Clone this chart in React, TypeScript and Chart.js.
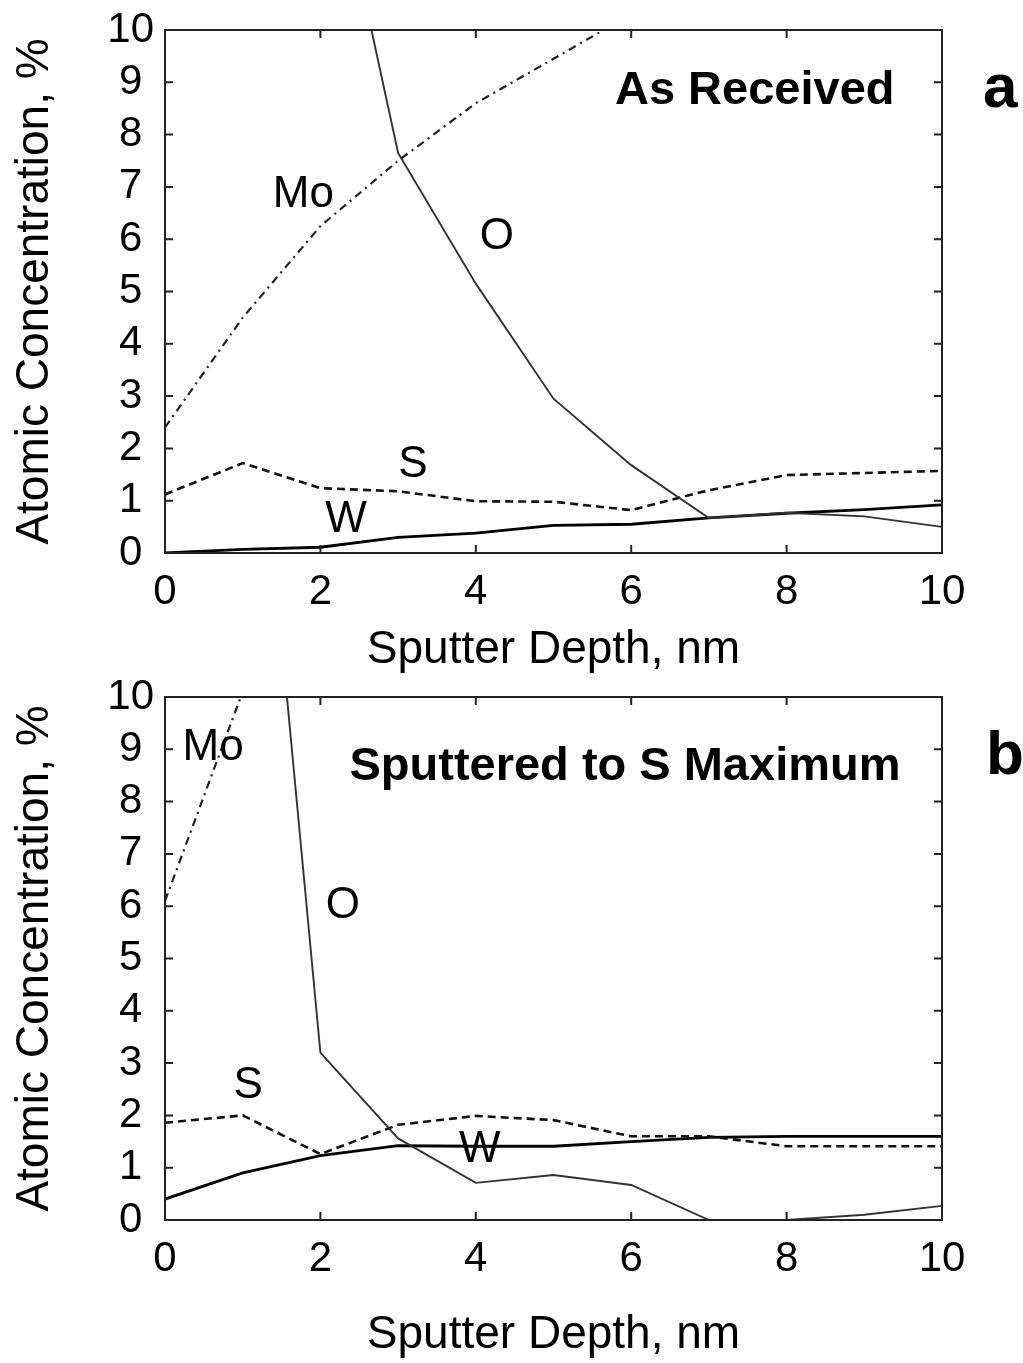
import React, { useEffect, useRef } from "react";
import { Chart, registerables } from "chart.js";

Chart.register(...registerables);

// ---------- data ----------
const depth = [0, 1, 2, 3, 4, 5, 6, 7, 8, 9, 10];
const xTicks = [0, 2, 4, 6, 8, 10];
const yTicks = [0, 1, 2, 3, 4, 5, 6, 7, 8, 9, 10];

// Panel a: As Received
const moA = [2.4, 4.5, 6.25, 7.5, 8.6, 9.45, 10.3, null, null, null, null];
const oA = [null, null, 14.5, 7.65, 5.15, 2.95, 1.68, 0.67, 0.77, 0.7, 0.5];
const sA = [1.12, 1.72, 1.24, 1.18, 0.99, 0.98, 0.82, 1.2, 1.49, 1.53, 1.57];
const wA = [0.0, 0.07, 0.11, 0.3, 0.38, 0.53, 0.55, 0.67, 0.76, 0.83, 0.92];

// Panel b: Sputtered to S Maximum
const moB = [6.1, 10.1, null, null, null, null, null, null, null, null, null];
const oB = [null, 19, 3.2, 1.56, 0.71, 0.86, 0.67, 0.0, 0.0, 0.1, 0.27];
const sB = [1.86, 2.0, 1.26, 1.82, 1.99, 1.91, 1.6, 1.6, 1.41, 1.41, 1.41];
const wB = [0.4, 0.9, 1.23, 1.42, 1.41, 1.41, 1.5, 1.58, 1.6, 1.6, 1.6];

const xTitle = "Sputter Depth, nm";
const yTitle = "Atomic Concentration, %";

const labelsA = [
  { text: "Mo", x: 1.78, y: 6.85, bold: false, size: 44 },
  { text: "O", x: 4.27, y: 6.04, bold: false, size: 44 },
  { text: "S", x: 3.19, y: 1.68, bold: false, size: 44 },
  { text: "W", x: 2.33, y: 0.63, bold: false, size: 44 },
  { text: "As Received", x: 7.59, y: 8.83, bold: true, size: 47 },
  { text: "a", x: 10.75, y: 8.85, bold: true, size: 62 },
];
const labelsB = [
  { text: "Mo", x: 0.62, y: 9.02, bold: false, size: 44 },
  { text: "O", x: 2.29, y: 6.01, bold: false, size: 44 },
  { text: "S", x: 1.07, y: 2.57, bold: false, size: 44 },
  { text: "W", x: 4.05, y: 1.34, bold: false, size: 44 },
  { text: "Sputtered to S Maximum", x: 5.92, y: 8.66, bold: true, size: 47 },
  { text: "b", x: 10.81, y: 8.85, bold: true, size: 62 },
];

const FONT = "'Liberation Sans', Arial, Helvetica, sans-serif";

const framePlugin = {
  id: "frame",
  afterDatasetsDraw(chart: any, _args: any, opts: any) {
    const { ctx, chartArea, scales } = chart;
    const { left, right, top, bottom } = chartArea;
    ctx.save();
    ctx.strokeStyle = "#222";
    ctx.lineWidth = 2;
    ctx.strokeRect(left, top, right - left, bottom - top);
    const tl = 8;
    ctx.lineWidth = 2;
    ctx.beginPath();
    for (const v of xTicks) {
      const px = scales.x.getPixelForValue(v);
      ctx.moveTo(px, bottom);
      ctx.lineTo(px, bottom - tl);
      ctx.moveTo(px, top);
      ctx.lineTo(px, top + tl);
    }
    for (const v of yTicks) {
      const py = scales.y.getPixelForValue(v);
      ctx.moveTo(left, py);
      ctx.lineTo(left + tl, py);
      ctx.moveTo(right, py);
      ctx.lineTo(right - tl, py);
    }
    ctx.stroke();
    ctx.fillStyle = "#000";
    ctx.textAlign = "center";
    ctx.textBaseline = "middle";
    for (const l of opts.labels || []) {
      ctx.font = `${l.bold ? "bold " : ""}${l.size}px ${FONT}`;
      ctx.fillText(l.text, scales.x.getPixelForValue(l.x), scales.y.getPixelForValue(l.y));
    }
    ctx.restore();
  },
};

type PanelProps = {
  top: number;
  height: number;
  padTop: number;
  xAxisHeight: number;
  xTickPad: number;
  xTitlePad: number;
  mo: (number | null)[];
  o: (number | null)[];
  s: (number | null)[];
  w: (number | null)[];
  labels: any[];
};

function Panel(p: PanelProps) {
  const ref = useRef<HTMLCanvasElement>(null);
  useEffect(() => {
    if (!ref.current) return;
    const chart = new Chart(ref.current, {
      type: "line",
      data: {
        labels: depth,
        datasets: [
          {
            label: "Mo",
            data: depth.map((x, i) => ({ x, y: p.mo[i] })) as any,
            borderColor: "#222",
            borderWidth: 2.2,
            borderDash: [8, 5, 2, 5],
            pointRadius: 0,
            tension: 0,
          },
          {
            label: "O",
            data: depth.map((x, i) => ({ x, y: p.o[i] })) as any,
            borderColor: "#333",
            borderWidth: 1.9,
            pointRadius: 0,
            tension: 0,
          },
          {
            label: "S",
            data: depth.map((x, i) => ({ x, y: p.s[i] })) as any,
            borderColor: "#111",
            borderWidth: 2.6,
            borderDash: [8, 5],
            pointRadius: 0,
            tension: 0,
          },
          {
            label: "W",
            data: depth.map((x, i) => ({ x, y: p.w[i] })) as any,
            borderColor: "#000",
            borderWidth: 2.8,
            pointRadius: 0,
            tension: 0,
          },
        ],
      },
      options: {
        animation: false,
        responsive: false,
        devicePixelRatio: 1,
        layout: {
          padding: { left: 0, right: 81, top: p.padTop, bottom: 0 },
        },
        plugins: {
          legend: { display: false },
          tooltip: { enabled: false },
          frame: { labels: p.labels },
        } as any,
        scales: {
          x: {
            type: "linear",
            min: 0,
            max: 10,
            afterFit: (s: any) => {
              s.height = p.xAxisHeight;
            },
            afterBuildTicks: (s: any) => {
              s.ticks = xTicks.map((v) => ({ value: v }));
            },
            grid: { display: false, drawTicks: false },
            border: { display: false },
            ticks: {
              autoSkip: false,
              maxRotation: 0,
              padding: p.xTickPad,
              color: "#000",
              font: { family: FONT, size: 42 },
            },
            title: {
              display: true,
              text: xTitle,
              color: "#000",
              font: { family: FONT, size: 46 },
              padding: { top: 0, bottom: p.xTitlePad },
            },
          },
          y: {
            type: "linear",
            min: 0,
            max: 10,
            afterFit: (s: any) => {
              s.width = 165;
            },
            afterBuildTicks: (s: any) => {
              s.ticks = yTicks.map((v) => ({ value: v }));
            },
            grid: { display: false, drawTicks: false },
            border: { display: false },
            ticks: {
              autoSkip: false,
              crossAlign: "center",
              padding: 11,
              color: "#000",
              font: { family: FONT, size: 42 },
            },
            title: {
              display: true,
              text: yTitle,
              color: "#000",
              font: { family: FONT, size: 46 },
              padding: { top: 8, bottom: 0 },
            },
          },
        },
      },
      plugins: [framePlugin],
    });
    return () => chart.destroy();
  }, []);
  return (
    <div style={{ position: "absolute", left: 0, top: p.top, width: 1023, height: p.height }}>
      <canvas ref={ref} width={1023} height={p.height} style={{ display: "block" }} />
    </div>
  );
}

export default function App() {
  return (
    <div style={{ position: "absolute", left: 0, top: 0, width: 1023, height: 1363, background: "#fff", overflow: "hidden" }}>
      <Panel top={-30} height={710} padTop={60} xAxisHeight={127} xTickPad={14} xTitlePad={2}
        mo={moA} o={oA} s={sA} w={wA} labels={labelsA} />
      <Panel top={637} height={726} padTop={60} xAxisHeight={143} xTickPad={14} xTitlePad={0}
        mo={moB} o={oB} s={sB} w={wB} labels={labelsB} />
    </div>
  );
}
